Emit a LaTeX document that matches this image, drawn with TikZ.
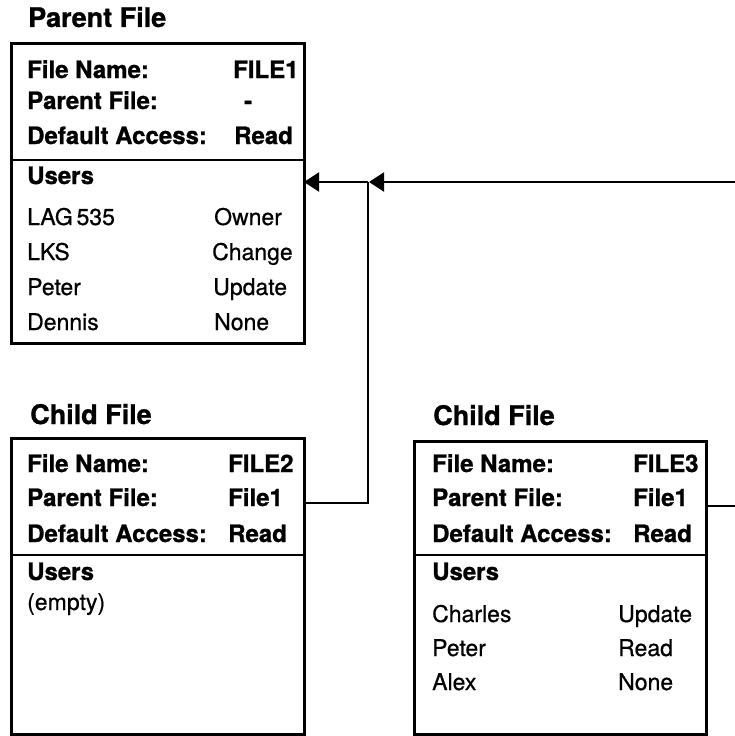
\documentclass[tikz,border=0pt]{standalone}
\usepackage{fontspec}
\setmainfont{TeX Gyre Heros}[UprightFeatures={FakeBold=0.6},BoldFeatures={FakeBold=1.0}]
\usetikzlibrary{arrows.meta}
\begin{document}
\begin{tikzpicture}[x=1pt,y=-1pt,
  box/.style={draw, line width=3pt, minimum width=293pt, minimum height=300pt, anchor=north west, inner sep=0pt},
  div/.style={line width=2pt},
  conn/.style={line width=2pt},
  arr/.style={conn, -{Triangle[length=15pt,width=19pt]}},
  ttl/.style={font=\bfseries\fontsize{27}{27}\selectfont, inner sep=0pt, anchor=base west},
  key/.style={font=\bfseries\fontsize{24}{24}\selectfont, inner sep=0pt, anchor=base west},
  val/.style={font=\fontsize{23}{23}\selectfont, inner sep=0pt, anchor=base west}]
\useasboundingbox (0,0) rectangle (735,736);

% ---------- Parent file ----------
\node[ttl] (pt) at (28,27) {Parent File};
\node[box, minimum height=300pt] (p) at (10,42) {};
\draw[div] (10,160) -- (303,160);
\node[key] (pk1) at (27,78) {File Name:};
\node[key] (pv1) at (233,78) {FILE1};
\node[key] (pk2) at (27,109) {Parent File:};
\node[key] (pv2) at (244,109) {-};
\node[key] (pk3) at (27,144) {Default Access:};
\node[key] (pv3) at (234,144) {Read};
\node[key] (pu) at (27,184) {Users};
\node[val] (pa1) at (27,225) {LAG\,535};
\node[val] (pb1) at (214,225) {Owner};
\node[val] (pa2) at (27,260) {LKS};
\node[val] (pb2) at (212,260) {Change};
\node[val] (pa3) at (27,295) {Peter};
\node[val] (pb3) at (213,295) {Update};
\node[val] (pa4) at (27,330) {Dennis};
\node[val] (pb4) at (214,330) {None};

% ---------- Child file 2 ----------
\node[ttl] (at) at (30,424) {Child File};
\node[box, minimum height=296pt] (a) at (10,437) {};
\draw[div] (10,555) -- (303,555);
\node[key] (ak1) at (27,472) {File Name:};
\node[key] (av1) at (228,472) {FILE2};
\node[key] (ak2) at (27,506) {Parent File:};
\node[key] (av2) at (228,506) {File1};
\node[key] (ak3) at (27,542) {Default Access:};
\node[key] (av3) at (228,542) {Read};
\node[key] (au) at (27,580) {Users};
\node[val] (ae) at (27,610) {(empty)};

% ---------- Child file 3 ----------
\node[ttl] (bt) at (433,425) {Child File};
\node[box, minimum width=292pt, minimum height=293pt] (b) at (413,440) {};
\draw[div] (413,555) -- (705,555);
\node[key] (bk1) at (432,472) {File Name:};
\node[key] (bv1) at (633,472) {FILE3};
\node[key] (bk2) at (432,506) {Parent File:};
\node[key] (bv2) at (633,506) {File1};
\node[key] (bk3) at (432,542) {Default Access:};
\node[key] (bv3) at (633,542) {Read};
\node[key] (bu) at (432,580) {Users};
\node[val] (ba1) at (432,622) {Charles};
\node[val] (bb1) at (618,622) {Update};
\node[val] (ba2) at (432,656) {Peter};
\node[val] (bb2) at (618,656) {Read};
\node[val] (ba3) at (432,690) {Alex};
\node[val] (bb3) at (618,690) {None};

% ---------- connectors ----------
\coordinate (aout) at (303,503);
\coordinate (jbot) at (368,503);
\coordinate (jtop) at (368,182);
\coordinate (pin) at (304,182);
\coordinate (jin) at (369,182);
\coordinate (rin) at (735,182);
\coordinate (bout) at (705,506);
\coordinate (rout) at (735,506);
\draw[conn] (aout) -- (jbot) -- (jtop);
\draw[arr] (jtop) -- (pin);
\draw[arr] (rin) -- (jin);
\draw[conn] (bout) -- (rout);
\end{tikzpicture}
\end{document}
